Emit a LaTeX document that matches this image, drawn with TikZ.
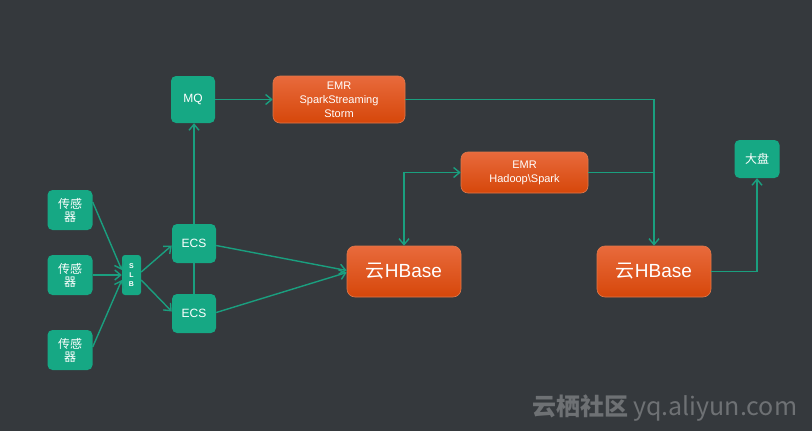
\documentclass[tikz,border=0pt]{standalone}
\usepackage{fontspec}
\setmainfont{Liberation Sans}
\newfontfamily\cjk{Noto Sans CJK SC}
\usetikzlibrary{arrows.meta}
\definecolor{bgc}{HTML}{35393D}
\definecolor{gboxc}{HTML}{16A884}
\definecolor{glinec}{HTML}{1A9F7F}
\definecolor{otop}{HTML}{E86A3C}
\definecolor{obot}{HTML}{D6470A}
\definecolor{oedge}{HTML}{E0784A}
\definecolor{wmc}{HTML}{6E7174}
\tikzset{
  gnode/.style={fill=gboxc, rounded corners=5pt, text=white, inner sep=0pt, align=center, font=\fontsize{11}{13}\selectfont},
  onode/.style={top color=otop, bottom color=obot, draw=oedge, line width=0.6pt, rounded corners=7pt, text=white, inner sep=0pt, align=center, font=\fontsize{11}{14}\selectfont},
  cjkbox/.style={gnode, minimum width=45pt, minimum height=40pt, font=\cjk\fontsize{12}{14}\selectfont},
  conn/.style={draw=glinec, line width=1.4pt},
  tipb/.tip={Straight Barb[length=6pt,width=10pt,line width=1.4pt]},
  arr/.style={conn, -tipb},
  arrb/.style={conn, tipb-tipb},
}
\begin{document}
\begin{tikzpicture}[x=1pt,y=-1pt]
\fill[bgc] (0,0) rectangle (812,431);
\useasboundingbox (0,0) rectangle (812,431);

% nodes
\node[cjkbox] (s1) at (70,210) {传感\\[-1pt]器};
\node[cjkbox] (s2) at (70,275) {传感\\[-1pt]器};
\node[cjkbox] (s3) at (70,350) {传感\\[-1pt]器};
\node[gnode, rounded corners=3pt, minimum width=19pt, minimum height=40pt, font=\fontsize{7}{9}\selectfont\bfseries] (slb) at (131.5,275) {S\\L\\B};
\node[gnode, minimum width=44pt, minimum height=39pt, font=\fontsize{12}{14}\selectfont] (ecs1) at (194,243.5) {ECS};
\node[gnode, minimum width=44pt, minimum height=39pt, font=\fontsize{12}{14}\selectfont] (ecs2) at (194,313.5) {ECS};
\node[gnode, minimum width=44pt, minimum height=47pt, font=\fontsize{12}{14}\selectfont] (mq) at (193,99.5) {MQ};
\node[onode, minimum width=132pt, minimum height=47pt] (emr1) at (339,99.5) {EMR\\SparkStreaming\\Storm};
\node[onode, minimum width=127pt, minimum height=41pt] (emr2) at (524.5,172.5) {EMR\\Hadoop\textbackslash Spark};
\node[onode, rounded corners=8pt, minimum width=114pt, minimum height=51pt, font=\fontsize{19}{22}\selectfont] (hb1) at (404,271.5) {{\cjk 云}HBase};
\node[onode, rounded corners=8pt, minimum width=114pt, minimum height=51pt, font=\fontsize{19}{22}\selectfont] (hb2) at (654,271.5) {{\cjk 云}HBase};
\node[gnode, minimum width=45pt, minimum height=38pt, font=\cjk\fontsize{12}{14}\selectfont] (dp) at (757,159) {大盘};

% connectors
\draw[arr] ([yshift=8pt]s1.east) -- ([yshift=5pt]slb.west);
\draw[arr] (s2.east) -- (slb.west);
\draw[arr] ([yshift=3pt]s3.east) -- ([yshift=-5pt]slb.west);
\draw[arr] ([yshift=3pt]slb.east) -- ([yshift=-2pt]ecs1.west);
\draw[arr] ([yshift=-5pt]slb.east) -- ([yshift=2pt]ecs2.west);
\draw[conn] (ecs1.south) -- (ecs2.north);
\draw[arr] (ecs1.north) -- (ecs1.north |- mq.south);
\draw[arr] ([yshift=-2pt]ecs1.east) -- ([yshift=1pt]hb1.west);
\draw[arr] ([yshift=1pt]ecs2.east) -- ([yshift=-1pt]hb1.west);
\draw[arr] (mq.east) -- (emr1.west);
\draw[arr] (emr1.east) -| (hb2.north);
\draw[conn] (emr2.east) -- (emr2.east -| hb2.north);
\draw[arrb] (emr2.west) -| (hb1.north);
\draw[arr] (hb2.east) -| (dp.south);

% watermark
\node[anchor=west, text=wmc, inner sep=0pt, font=\cjk\fontsize{24}{26}\selectfont] (wm) at (532,408) {\textbf{云栖社区}\hspace{5pt}{\fontsize{25}{26}\selectfont yq.aliyun.com}};
\end{tikzpicture}
\end{document}
